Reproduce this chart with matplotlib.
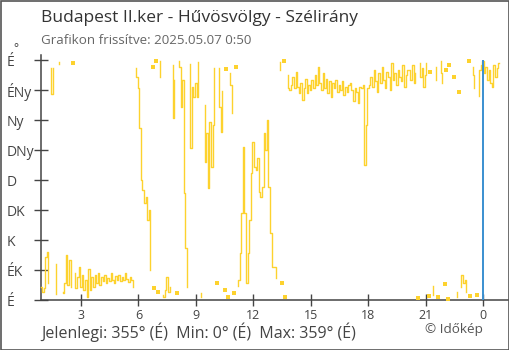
import numpy as np
import matplotlib
matplotlib.use("Agg")
import matplotlib.pyplot as plt
from matplotlib.patches import Rectangle

plt.rcParams['font.family'] = ['Open Sans', 'DejaVu Sans']

# ---------------- data ----------------
title = "Budapest II.ker - Hűvösvölgy - Szélirány"
subtitle = "Grafikon frissítve: 2025.05.07 0:50"
footer = "Jelenlegi: 355° (É)  Min: 0° (É)  Max: 359° (É)"
credit = "© Időkép"
unit_label = "°"

start_hour = 55 / 60.0     # first sample 0:55
step_minutes = 5

night_deg = [
    20, 12, 18, 65, 72, 25, 348, 309, 348, 54,
    9, 354, 357, 12, 10, 25, 67, 22, 60, 20,
    355, 40, 18, 35, 50, 20, 38, 15, 30, 5,
    47, 15, 35, 20, 38, 25, 40, 22, 35, 28,
    38, 25, 33, 28, 40, 30, 25, 36, 30, 38,
    28, 35, 30, 40, 32, 27, 35, 30, 20, 348,
]
morning_deg = [
    335, 318, 258, 180, 165, 145, 155, 120, 135, 45,
    350, 18, 359, 12, 358, 335, 8, 5, 15, 35,
    12, 20, 352, 273, 330, 10, 358, 350, 290, 330,
    160, 78, 20, 354, 228, 320, 305, 325, 305, 357,
    10, 4, 292, 207, 250, 168, 267, 200, 262, 348,
    25, 348, 290, 252, 313, 15, 346, 5, 340, 322,
    280, 10, 350, 21, 30, 70, 130, 230, 130, 25,
    70, 120, 190, 237, 200, 195, 213, 162, 155, 170,
    250, 225, 270, 170, 100, 50, 50, 50, 33, 357,
    345, 25, 358, 5,
]
afternoon_deg = [
    338, 318, 315, 322, 335, 318, 342, 320, 310, 326,
    300, 318, 332, 310, 322, 315, 330, 318, 338, 322,
    350, 325, 315, 340, 318, 332, 310, 328, 305, 325,
    318, 330, 312, 322, 315, 328, 308, 320, 312, 322,
    325, 315, 298, 318, 312, 295, 320, 318, 322, 202,
    262, 318, 322, 335, 320, 345, 328, 312, 340, 325,
    350, 330, 318, 342, 335, 315, 355, 330, 340, 322,
    345, 335, 328, 352, 320, 338, 345,
]
evening_deg = [
    345, 330, 352, 325, 340, 3, 355, 335, 348, 320,
    338, 355, 6, 342, 21, 8, 350, 330, 5, 358,
    340, 325, 24, 345, 1, 352, 16, 16, 335, 4,
    12, 312, 20, 37, 25, 30, 12, 358, 6, 350,
    338, 318, 8, 306, 345, 352, 358, 340, 350, 330,
    345, 325, 320, 352, 335, 348, 355,
]

dir_ticks = [0, 45, 90, 135, 180, 225, 270, 315, 360]
dir_labels = ["É", "ÉK", "K", "DK", "D", "DNy", "Ny", "ÉNy", "É"]
hour_ticks = [3, 6, 9, 12, 15, 18, 21, 24]
hour_labels = ["3", "6", "9", "12", "15", "18", "21", "0"]
midnight = 24

# ---------------- style ----------------
W, H = 510, 350
line_color = "#FDD22E"
blue = "#3A8FD0"
axis_color = "#444444"

direction = np.array(night_deg + morning_deg + afternoon_deg + evening_deg, dtype=float)
hours = start_hour + np.arange(direction.size) * step_minutes / 60.0

# break line where the direction wraps around north
brk = np.abs(np.diff(direction)) > 180
ins = np.where(brk)[0] + 1
y_line = np.insert(direction, ins, np.nan)
x_line = np.insert(hours, ins, np.nan)

# isolated points -> square markers
left_break = np.concatenate([[True], brk])
right_break = np.concatenate([brk, [True]])
iso = left_break & right_break

fig = plt.figure(figsize=(W / 100, H / 100), dpi=100)
ax = fig.add_axes([41 / W, 50 / H, (509 - 41) / W, 245 / H])
px_per_h = 19.14
ax.set_xlim(0.91, 0.91 + 468 / px_per_h)
ax.set_ylim(0, 367.5)

ax.plot(x_line, y_line, color=line_color, lw=1.0, drawstyle='steps-mid',
        clip_on=False, zorder=3)
ax.plot(hours[iso], direction[iso], ls='none', marker='s', ms=2.7, mew=0,
        color=line_color, clip_on=False, zorder=3)

ax.plot([midnight, midnight], [dir_ticks[0], dir_ticks[-1]], color=blue, lw=1.4,
        solid_capstyle='butt', zorder=5)

for s in ['top', 'right']:
    ax.spines[s].set_visible(False)
for s in ['left', 'bottom']:
    ax.spines[s].set_color(axis_color)
    ax.spines[s].set_linewidth(1.1)

ax.set_yticks(dir_ticks)
ax.set_yticklabels(dir_labels)
ax.tick_params(axis='y', direction='inout', length=9.6, width=1.0, color=axis_color,
               labelsize=10, labelcolor=axis_color, pad=20)
for lab in ax.get_yticklabels():
    lab.set_horizontalalignment('left')

ax.set_xticks(hour_ticks)
ax.set_xticklabels(hour_labels)
ax.tick_params(axis='x', direction='inout', length=8.6, width=1.0, color=axis_color,
               labelsize=9, labelcolor=axis_color, pad=2.2)
ax.get_xticklines()[-2].set_color(blue)

fig.text(41 / W, 1 - 18 / H, title, ha='left', va='center', fontsize=12.5, color='#333333')
fig.text(41 / W, 1 - 40 / H, subtitle, ha='left', va='center', fontsize=9.6, color='#666666')
fig.text(13 / W, 1 - 49 / H, unit_label, ha='left', va='center', fontsize=8.5, color=axis_color)
fig.text(41 / W, 1 - 332 / H, footer, ha='left', va='center', fontsize=11.5, color=axis_color)
fig.text(425 / W, 1 - 330 / H, credit, ha='left', va='center', fontsize=9.7, color='#555555')

fig.patches.append(Rectangle((0.5 / W, 0.5 / H), 1 - 1.5 / W, 1 - 1.5 / H, transform=fig.transFigure,
                             fill=False, edgecolor='#555555', lw=1.2))

fig.savefig("out.png", dpi=100)
